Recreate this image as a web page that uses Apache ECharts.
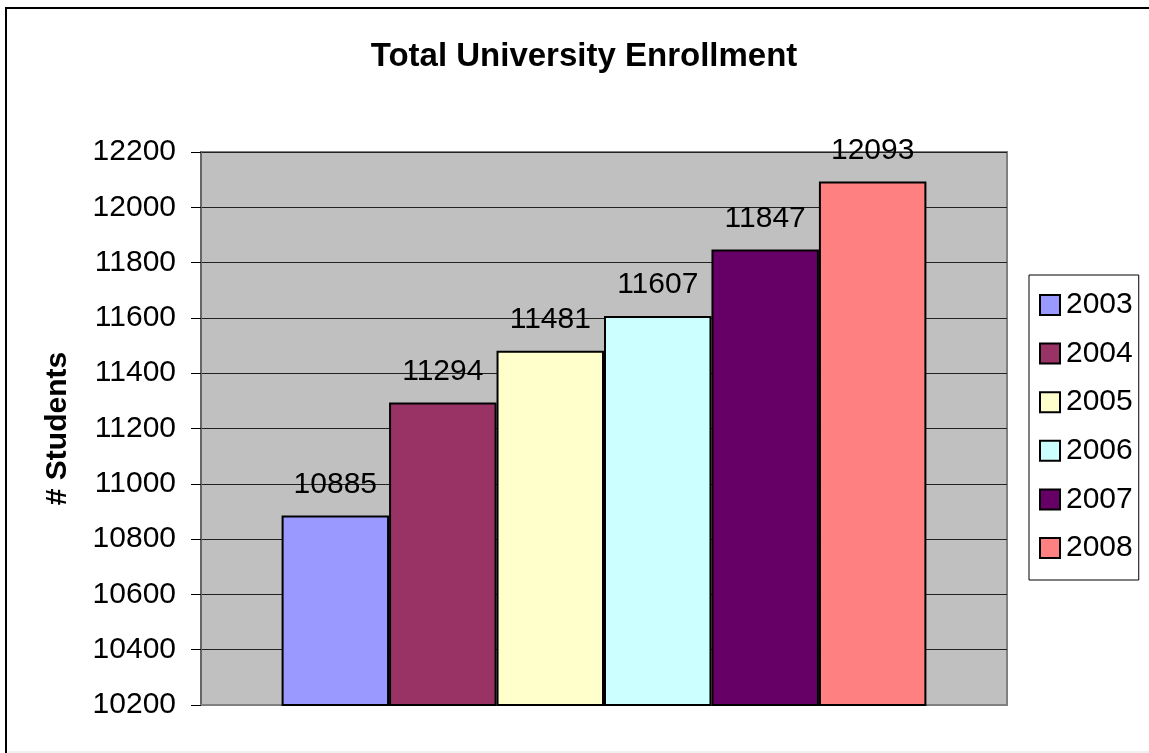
<!DOCTYPE html>
<html>
<head>
    <meta charset="utf-8">
    <script src="https://cdn.jsdelivr.net/npm/echarts@6/dist/echarts.min.js"></script>
</head>
<body style="margin: 0; background: #fff">
    <div id="container" style="width: 1149px; height: 753px"></div>
    <script type="text/javascript">
        var years = ['2003', '2004', '2005', '2006', '2007', '2008'];
        var enrollment = [10885, 11294, 11481, 11607, 11847, 12093];
        var barColors = ['#9999FF', '#993366', '#FFFFCC', '#CCFFFF', '#660066', '#FF8080'];
        var yMin = 10200, yMax = 12200, yStep = 200;

        var chart = echarts.init(document.getElementById('container'));

        var series = years.map(function (y, i) {
            return {
                name: y,
                type: 'bar',
                data: [enrollment[i]],
                barGap: '0%',
                barCategoryGap: '20%',
                itemStyle: { color: barColors[i], borderColor: '#000', borderWidth: 2 },
                label: {
                    show: true,
                    position: 'top',
                    distance: 16,
                    fontFamily: 'Liberation Sans, Arial',
                    fontSize: 30,
                    color: '#000'
                }
            };
        });

        var option = {
            animation: false,
            textStyle: { fontFamily: 'Liberation Sans, Arial' },
            title: {
                text: 'Total University Enrollment',
                left: 579,
                top: 35,
                textAlign: 'center',
                textStyle: { fontSize: 33, fontWeight: 'bold', color: '#000' }
            },
            legend: {
                orient: 'vertical',
                left: 1029,
                top: 275,
                padding: [15, 6, 17, 10],
                borderColor: '#000',
                borderWidth: 1,
                icon: 'rect',
                itemWidth: 20,
                itemHeight: 20,
                itemGap: 18.6,
                itemStyle: { borderColor: '#000', borderWidth: 2 },
                textStyle: { fontSize: 30, color: '#000', padding: [0, 0, 0, 1] },
                data: years
            },
            grid: {
                left: 201,
                right: 142,
                top: 152,
                bottom: 48,
                show: true,
                backgroundColor: '#C0C0C0',
                borderColor: '#808080',
                borderWidth: 2
            },
            xAxis: {
                type: 'category',
                data: [''],
                axisLine: { show: true, lineStyle: { color: '#808080', width: 2 } },
                axisTick: { show: false },
                axisLabel: { show: false }
            },
            yAxis: {
                type: 'value',
                min: yMin,
                max: yMax,
                interval: yStep,
                name: '# Students',
                nameLocation: 'middle',
                nameGap: 128,
                nameTextStyle: { fontSize: 30, fontWeight: 'bold', color: '#000' },
                axisLine: { show: true, lineStyle: { color: '#666', width: 2 } },
                axisTick: { show: true, length: 10, lineStyle: { color: '#000' } },
                axisLabel: {
                    fontSize: 30,
                    color: '#000',
                    margin: 25,
                    formatter: function (v) { return String(v); }
                },
                splitLine: { show: true, lineStyle: { color: '#222', width: 1 } }
            },
            graphic: [
                {
                    type: 'rect',
                    shape: { x: 6, y: 8, width: 1160, height: 770 },
                    style: { fill: 'none', stroke: '#000', lineWidth: 2 },
                    z: 100
                },
                {
                    type: 'line',
                    shape: { x1: 8, y1: 752, x2: 1149, y2: 752 },
                    style: { stroke: '#e0e0e0', lineWidth: 1 },
                    z: 100
                }
            ],
            series: series
        };

        chart.setOption(option);
    </script>
</body>
</html>
